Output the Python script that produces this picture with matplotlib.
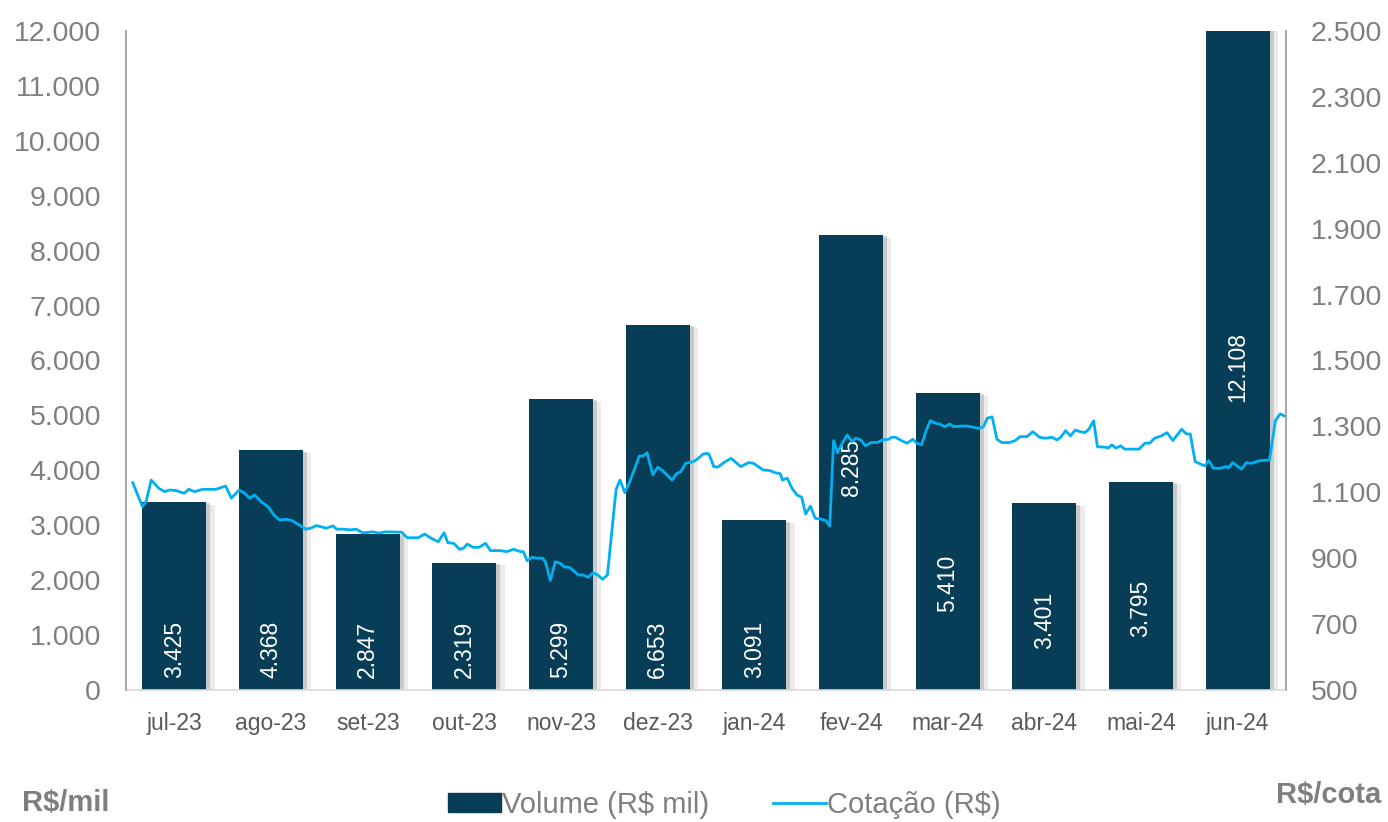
import matplotlib
matplotlib.use("Agg")
import matplotlib.pyplot as plt
import matplotlib.patheffects as pe
from matplotlib.lines import Line2D
from matplotlib.patches import Patch
from matplotlib.ticker import FuncFormatter

plt.rcParams['font.family'] = ['Liberation Sans', 'DejaVu Sans']

months = ['jul-23', 'ago-23', 'set-23', 'out-23', 'nov-23', 'dez-23',
          'jan-24', 'fev-24', 'mar-24', 'abr-24', 'mai-24', 'jun-24']
volume = [3425, 4368, 2847, 2319, 5299, 6653, 3091, 8285, 5410, 3401, 3795, 12108]

# daily quote: position in months (bar centres at 0..11) and price R$
quote_t = [-0.43, -0.33, -0.29, -0.24, -0.16, -0.10, -0.05, 0.02, 0.10, 0.15, 0.21, 0.29, 0.43,
           0.53, 0.59, 0.67, 0.72, 0.78, 0.83, 0.90, 0.97, 1.03, 1.09, 1.16, 1.22, 1.29, 1.36,
           1.41, 1.47, 1.57, 1.64, 1.68, 1.75, 1.82, 1.88, 1.95, 2.06, 2.11, 2.18, 2.35, 2.41,
           2.52, 2.59, 2.66, 2.73, 2.79, 2.83, 2.89, 2.95, 2.99, 3.03, 3.09, 3.15, 3.22, 3.27,
           3.37, 3.44, 3.51, 3.58, 3.61, 3.65, 3.70, 3.75, 3.81, 3.84, 3.89, 3.94, 3.99, 4.03,
           4.09, 4.13, 4.18, 4.23, 4.28, 4.33, 4.38, 4.43, 4.48, 4.57, 4.61, 4.66, 4.71, 4.77,
           4.81, 4.85, 4.89, 4.95, 5.00, 5.05, 5.15, 5.19, 5.24, 5.29, 5.37, 5.42, 5.47, 5.51,
           5.53, 5.58, 5.62, 5.70, 5.76, 5.80, 5.86, 5.94, 5.99, 6.04, 6.09, 6.16, 6.21, 6.27,
           6.29, 6.34, 6.39, 6.44, 6.49, 6.53, 6.58, 6.63, 6.70, 6.74, 6.78, 6.82, 6.86, 6.91,
           6.96, 7.01, 7.05, 7.10, 7.15, 7.21, 7.27, 7.33, 7.39, 7.42, 7.46, 7.52, 7.58, 7.64,
           7.68, 7.73, 7.78, 7.82, 7.88, 7.92, 7.97, 8.02, 8.06, 8.15, 8.21, 8.27, 8.33, 8.37,
           8.41, 8.46, 8.51, 8.56, 8.64, 8.70, 8.75, 8.82, 8.88, 8.95, 9.01, 9.08, 9.13, 9.17,
           9.22, 9.27, 9.32, 9.37, 9.42, 9.46, 9.51, 9.55, 9.63, 9.66, 9.70, 9.74, 9.79, 9.83,
           9.92, 9.98, 10.04, 10.09, 10.14, 10.21, 10.27, 10.33, 10.42, 10.47, 10.51, 10.56,
           10.66, 10.70, 10.75, 10.82, 10.88, 10.90, 10.95, 11.04, 11.09, 11.14, 11.23, 11.33,
           11.39, 11.44, 11.48]
quote_price = [1129, 1056, 1074, 1137, 1112, 1102, 1107, 1105, 1097, 1109, 1102, 1109, 1109,
               1119, 1082, 1107, 1099, 1082, 1092, 1071, 1056, 1031, 1016, 1018, 1014, 1001, 988,
               991, 999, 991, 998, 988, 988, 986, 988, 977, 980, 976, 980, 979, 962,
               962, 973, 960, 950, 977, 947, 945, 927, 930, 943, 933, 933, 945, 923,
               923, 920, 927, 920, 920, 892, 903, 900, 900, 888, 832, 889, 885, 874,
               872, 862, 849, 849, 842, 856, 849, 836, 849, 1109, 1137, 1099, 1132, 1178,
               1210, 1210, 1220, 1153, 1176, 1166, 1137, 1155, 1163, 1188, 1193, 1203, 1216, 1218,
               1216, 1178, 1176, 1193, 1203, 1193, 1178, 1190, 1188, 1178, 1168, 1166, 1160, 1156,
               1137, 1143, 1112, 1092, 1085, 1034, 1058, 1021, 1018, 1014, 998, 1257, 1220, 1249,
               1274, 1254, 1264, 1259, 1241, 1251, 1251, 1259, 1261, 1267, 1267, 1257, 1249, 1261,
               1249, 1244, 1289, 1317, 1309, 1307, 1299, 1307, 1299, 1301, 1301, 1297, 1294, 1299,
               1325, 1329, 1261, 1251, 1251, 1257, 1269, 1269, 1284, 1267, 1264, 1267, 1259, 1267,
               1287, 1271, 1289, 1284, 1281, 1291, 1317, 1238, 1237, 1234, 1244, 1234, 1241, 1231,
               1231, 1231, 1249, 1249, 1264, 1271, 1281, 1257, 1291, 1277, 1277, 1193,
               1180, 1196, 1173, 1173, 1178, 1173, 1190, 1170, 1190, 1188, 1196, 1198,
               1317, 1338, 1332]

# label anchor heights (left-axis units) for the rotated value labels
label_y = [740, 740, 740, 740, 740, 740, 740, 4060, 1948, 1275, 1493, 5881]

BAR = '#073D56'
LINE = '#00B0F0'
GREY = '#7F7F7F'
TXT = '#595959'

fig = plt.figure(figsize=(13.88, 8.22), dpi=100)
ax = fig.add_axes([0.0908, 0.1606, 0.8357, 0.8017])
ax2 = ax.twinx()

x = list(range(len(months)))
bars = ax.bar(x, volume, width=0.66, color=BAR, zorder=2)
for b in bars:
    b.set_path_effects([pe.SimplePatchShadow(offset=(6, -2), shadow_rgbFace='#b0b0b0', alpha=0.25),
                        pe.SimplePatchShadow(offset=(3, -1), shadow_rgbFace='#8a8a8a', alpha=0.35),
                        pe.Normal()])

for xi, v, ly in zip(x, volume, label_y):
    ax.text(xi, ly, f"{v:,}".replace(',', '.'), rotation=90, ha='center', va='center',
            color='white', fontsize=16.5, zorder=5)

ax.set_xlim(-0.5, 11.5)
ax.set_ylim(0, 12000)
ax.set_yticks(range(0, 12001, 1000))
ax.yaxis.set_major_formatter(FuncFormatter(lambda v, p: f"{int(v):,}".replace(',', '.')))
ax.set_xticks(x)
ax.set_xticklabels(months)
ax.tick_params(axis='x', length=0, pad=16, labelsize=16.5, labelcolor=TXT)
ax.tick_params(axis='y', length=0, pad=18, labelsize=20.5, labelcolor=GREY)

ax2.plot(quote_t, quote_price, color=LINE, lw=2.0, zorder=4)
ax2.set_ylim(500, 2500)
ax2.set_yticks(range(500, 2501, 200))
ax2.yaxis.set_major_formatter(FuncFormatter(lambda v, p: f"{int(v):,}".replace(',', '.')))
ax2.tick_params(axis='y', length=0, pad=18, labelsize=20.5, labelcolor=GREY)

for a in (ax, ax2):
    a.spines['top'].set_visible(False)
    a.spines['left'].set_color('#A6A6A6')
    a.spines['right'].set_color('#A6A6A6')
    a.spines['bottom'].set_color('#D9D9D9')
    for s in a.spines.values():
        s.set_linewidth(1.2)
ax2.spines['bottom'].set_visible(False)
ax.set_zorder(ax2.get_zorder() - 1)
ax.patch.set_visible(True)
ax2.patch.set_visible(False)

fig.text(0.016, 0.023, 'R$/mil', fontsize=21, fontweight='bold', color=GREY,
         ha='left', va='center')
fig.text(0.995, 0.033, 'R$/cota', fontsize=21, fontweight='bold', color=GREY,
         ha='right', va='center')

handles = [Patch(facecolor=BAR, edgecolor=BAR),
           Line2D([0], [0], color=LINE, lw=2)]
leg = fig.legend(handles, ['Volume (R$ mil)', 'Cotação (R$)'], loc='center',
                 bbox_to_anchor=(0.522, 0.021), ncol=2, frameon=False, fontsize=21,
                 handlelength=1.8, handleheight=0.65, handletextpad=0.05, columnspacing=2.2)
for t in leg.get_texts():
    t.set_color(GREY)

fig.savefig('out.png', dpi=100)
